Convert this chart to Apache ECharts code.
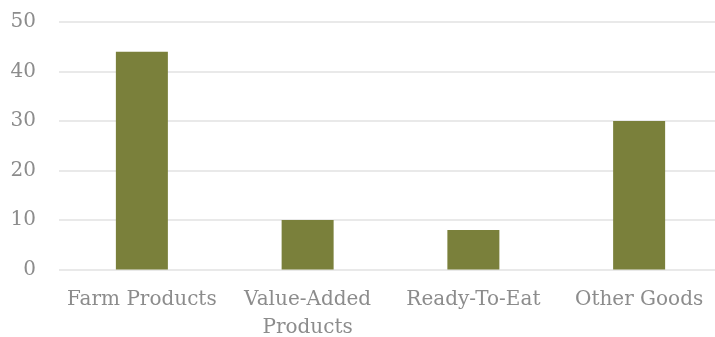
<!DOCTYPE html>
<html><head><meta charset="utf-8">
<script src="https://cdn.jsdelivr.net/npm/echarts@6/dist/echarts.min.js"></script>
<style>html,body{margin:0;padding:0;background:#fff}#c{width:715px;height:337px}</style>
</head><body><div id="c"></div>
<script>
const categories = ['Farm Products', 'Value-Added\nProducts', 'Ready-To-Eat', 'Other Goods'];
const values = [44, 10, 8, 30];
const yTicks = { min: 0, max: 50, interval: 10 };

const chart = echarts.init(document.getElementById('c'), null, { renderer: 'canvas' });
const font = '"DejaVu Serif", serif';
chart.setOption({
  animation: false,
  grid: { left: 59, width: 663, top: 22, height: 247.5, outerBoundsMode: 'none', containLabel: false },
  xAxis: {
    type: 'category', data: categories,
    axisLine: { show: false }, axisTick: { show: false },
    axisLabel: { color: '#8c8c8c', fontFamily: font, fontSize: 20, margin: 16, lineHeight: 28, interval: 0 }
  },
  yAxis: {
    type: 'value', min: yTicks.min, max: yTicks.max, interval: yTicks.interval,
    axisLine: { show: false }, axisTick: { show: false },
    splitLine: { lineStyle: { color: '#e2e2e2', width: 1.5 } },
    axisLabel: { color: '#8c8c8c', fontFamily: font, fontSize: 20, margin: 23 }
  },
  series: [{
    type: 'bar', data: values, barWidth: 52,
    itemStyle: { color: '#7a803b' }
  }]
});
</script></body></html>
